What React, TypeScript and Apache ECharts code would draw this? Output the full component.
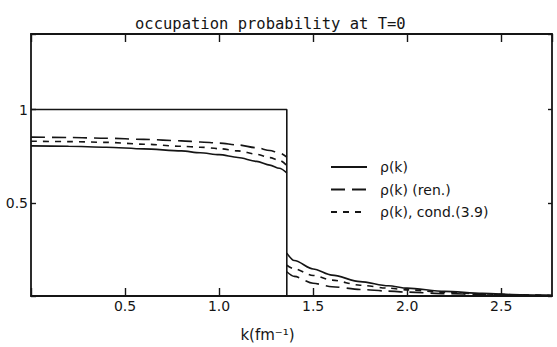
import React, { useEffect, useRef } from "react";
import * as echarts from "echarts";

const titleText = "occupation probability at T=0";
const xAxisName = "k(fm⁻¹)";
const seriesNames = ["ρ(k)", "ρ(k) (ren.)", "ρ(k), cond.(3.9)"];

const kF = 1.36;
const stepK = [0, kF, kF];
const stepVal = [1, 1, 0];

const kBelow = [0, 0.2, 0.4, 0.6, 0.8, 0.9, 1.0, 1.1, 1.2, 1.27, 1.32, 1.36];
const rhoBelow = [0.805, 0.803, 0.798, 0.789, 0.778, 0.768, 0.758, 0.743, 0.722, 0.702, 0.685, 0.66];
const renBelow = [0.852, 0.85, 0.846, 0.84, 0.832, 0.826, 0.82, 0.81, 0.795, 0.78, 0.768, 0.745];
const condBelow = [0.83, 0.828, 0.824, 0.814, 0.803, 0.798, 0.79, 0.778, 0.76, 0.742, 0.728, 0.7];

const kAbove = [1.36, 1.4, 1.5, 1.6, 1.75, 1.9, 2.0, 2.2, 2.4, 2.6, 2.77];
const rhoAbove = [0.23, 0.19, 0.145, 0.112, 0.077, 0.055, 0.042, 0.025, 0.014, 0.007, 0.004];
const condAbove = [0.165, 0.145, 0.11, 0.085, 0.058, 0.042, 0.033, 0.02, 0.011, 0.006, 0.003];
const renAbove = [0.13, 0.105, 0.068, 0.05, 0.035, 0.026, 0.021, 0.013, 0.008, 0.004, 0.002];

const xLabels = [0.5, 1.0, 1.5, 2.0, 2.5];
const yLabels = [0.5, 1];

const zip = (xs: number[], ys: number[]) => xs.map((x, i) => [x, ys[i]]);

const INK = "#151515";
const FONT = "DejaVu Sans";

export default function App() {
  const ref = useRef<HTMLDivElement>(null);
  useEffect(() => {
    if (!ref.current) return;
    const chart = echarts.init(ref.current, undefined, { renderer: "svg" });
    const lineSeries = (name: string, data: number[][], type: any) => ({
      name,
      type: "line",
      data,
      symbol: "none",
      smooth: 0.3,
      smoothMonotone: "x",
      lineStyle: { color: INK, width: 1.6, type },
      itemStyle: { color: INK },
      z: 3,
    });
    const longDash = [14, 7];
    const shortDash = [6, 6];
    const axisLine = { show: true, onZero: false, lineStyle: { color: INK, width: 1.8 } };
    chart.setOption({
      animation: false,
      backgroundColor: "#ffffff",
      textStyle: { fontFamily: FONT, color: INK },
      title: {
        text: titleText,
        left: 130,
        top: 11,
        textStyle: { fontFamily: "DejaVu Sans Mono", fontSize: 15.5, fontWeight: "normal", color: INK },
      },
      legend: {
        orient: "vertical",
        left: 325,
        top: 155,
        itemWidth: 36,
        itemHeight: 14,
        itemGap: 8.5,
        data: seriesNames,
        itemStyle: { opacity: 0 },
        textStyle: { fontFamily: FONT, fontSize: 14, color: INK, padding: [0, 0, 0, 8] },
        selectedMode: false,
      },
      grid: { left: 31, right: 5, top: 34, bottom: 46, show: false },
      xAxis: [
        {
          type: "value",
          min: 0,
          max: 2.77,
          interval: 0.5,
          name: xAxisName,
          nameLocation: "middle",
          nameGap: 31,
          nameTextStyle: { fontFamily: FONT, fontSize: 15, color: INK, padding: [0, 48, 0, 0] },
          axisLine,
          axisTick: { inside: true, length: 8, lineStyle: { color: INK, width: 1.4 } },
          axisLabel: {
            margin: 3,
            fontSize: 14,
            fontFamily: FONT,
            color: INK,
            showMaxLabel: false,
            formatter: (v: number) => (xLabels.some((l) => Math.abs(l - v) < 1e-6) ? v.toFixed(1) : ""),
          },
          splitLine: { show: false },
        },
        {
          type: "value",
          position: "top",
          min: 0,
          max: 2.77,
          interval: 0.5,
          axisLine,
          axisTick: { inside: true, length: 8, lineStyle: { color: INK, width: 1.4 } },
          axisLabel: { show: false },
          splitLine: { show: false },
        },
      ],
      yAxis: [
        {
          type: "value",
          min: 0,
          max: 1.405,
          interval: 0.5,
          axisLine,
          axisTick: { inside: true, length: 5, lineStyle: { color: INK, width: 1.4 } },
          axisLabel: {
            margin: 3,
            fontSize: 14,
            fontFamily: FONT,
            color: INK,
            formatter: (v: number) => (yLabels.some((l) => Math.abs(l - v) < 1e-6) ? String(v) : ""),
          },
          splitLine: { show: false },
        },
        {
          type: "value",
          position: "right",
          min: 0,
          max: 1.405,
          interval: 0.5,
          axisLine,
          axisTick: { inside: true, length: 4, lineStyle: { color: INK, width: 1.4 } },
          axisLabel: { show: false },
          splitLine: { show: false },
        },
      ],
      series: [
        {
          name: "step",
          type: "line",
          data: zip(stepK, stepVal),
          symbol: "none",
          lineStyle: { color: INK, width: 1.6 },
          z: 2,
        },
        lineSeries(seriesNames[0], zip(kBelow, rhoBelow), "solid"),
        lineSeries(seriesNames[0], zip(kAbove, rhoAbove), "solid"),
        lineSeries(seriesNames[1], zip(kBelow, renBelow), longDash),
        lineSeries(seriesNames[1], zip(kAbove, renAbove), longDash),
        lineSeries(seriesNames[2], zip(kBelow, condBelow), shortDash),
        lineSeries(seriesNames[2], zip(kAbove, condAbove), shortDash),
      ],
    });
    return () => chart.dispose();
  }, []);
  return (
    <div
      ref={ref}
      style={{ position: "fixed", left: 0, top: 0, width: 557, height: 347, background: "#fff" }}
    />
  );
}
